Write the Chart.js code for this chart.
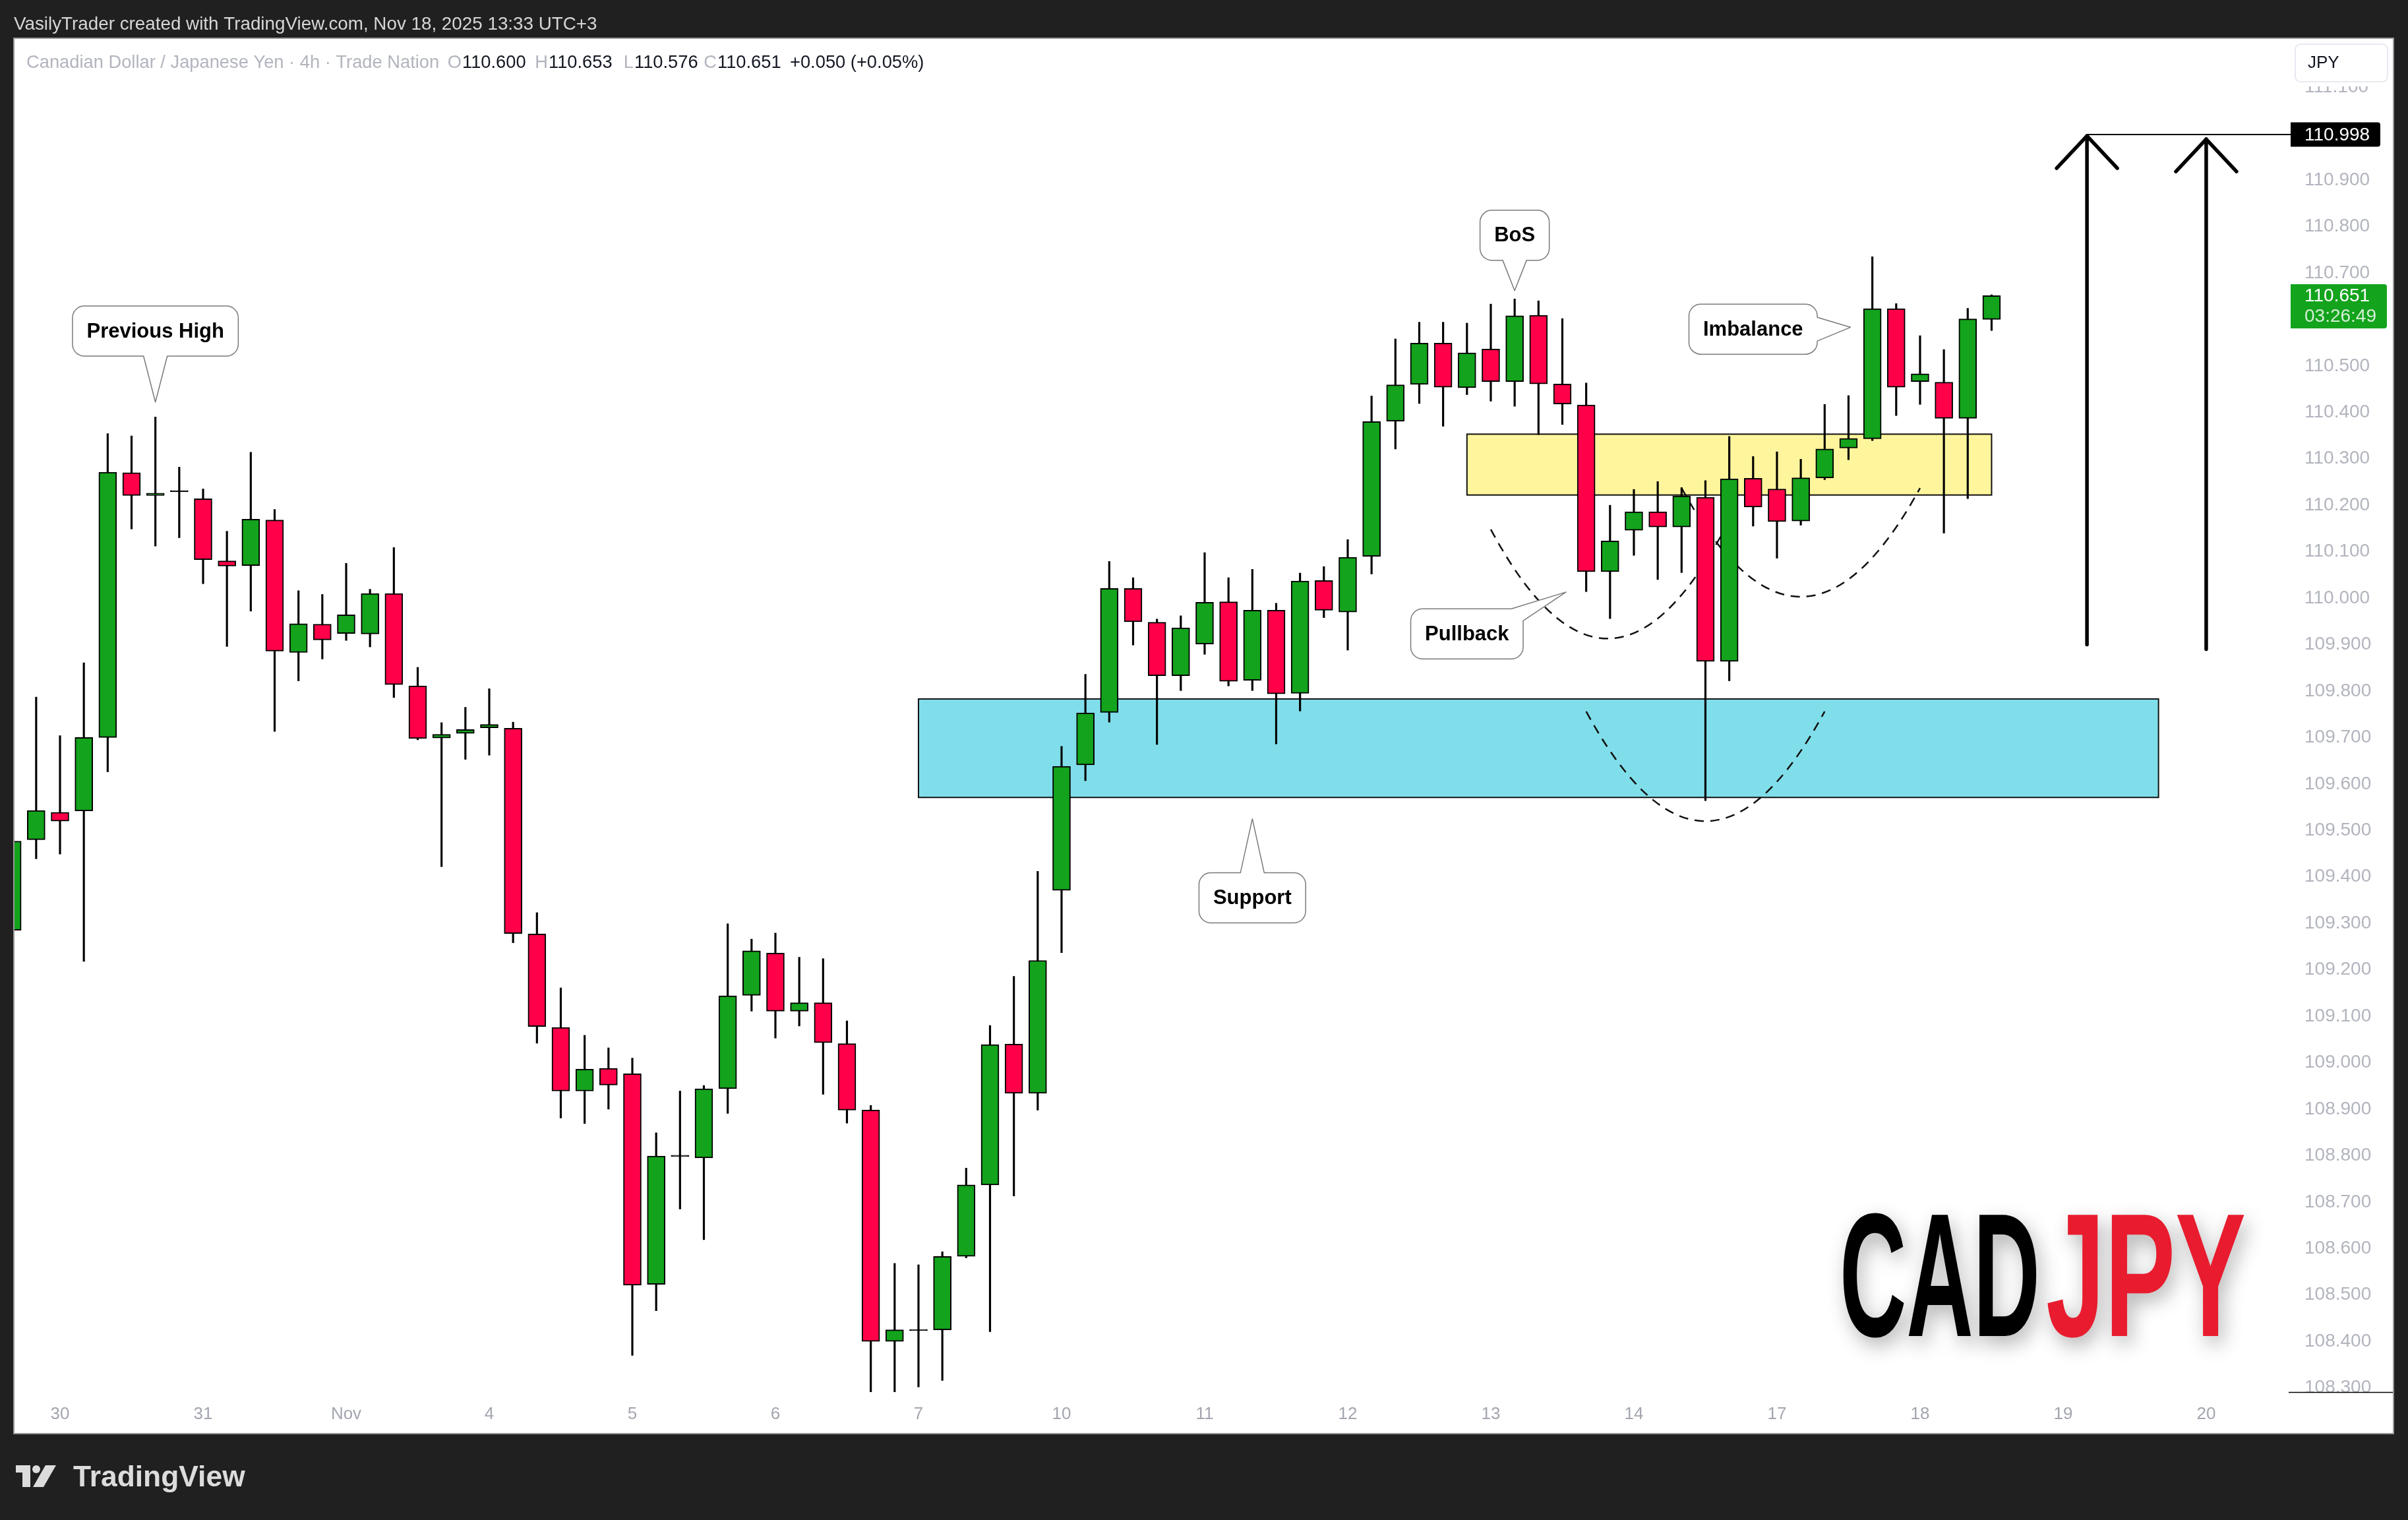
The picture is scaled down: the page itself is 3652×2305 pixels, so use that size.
<!DOCTYPE html>
<html><head><meta charset="utf-8">
<script src="https://cdn.jsdelivr.net/npm/chart.js@4.4.1/dist/chart.umd.min.js"></script>
<style>html,body{margin:0;padding:0;background:#202020;overflow:hidden}canvas{display:block}</style>
</head><body>
<canvas id="c" width="3652" height="2305"></canvas>
<script>
// ---------- DATA (4h candles, bar 0 = first visible bar) ----------
const opens = [109.285,109.480,109.539,109.542,109.700,110.270,110.221,110.229,110.214,110.080,
110.070,110.168,109.883,109.944,109.924,109.923,110.010,109.811,109.699,109.709,
109.721,109.720,109.277,109.076,108.939,108.988,108.976,108.523,108.798,108.795,
108.944,109.145,109.236,109.111,109.129,109.041,108.898,108.400,108.423,108.425,
108.583,108.737,109.040,108.934,109.371,109.641,109.754,110.021,109.948,109.833,
109.901,109.992,109.823,109.974,109.795,110.038,109.970,110.090,110.381,110.460,
110.549,110.453,110.536,110.466,110.609,110.461,110.416,110.057,110.146,110.186,
110.153,110.217,109.864,110.258,110.235,110.166,110.259,110.323,110.343,110.623,
110.466,110.465,110.387,110.600];
const highs = [109.495,109.787,109.704,109.861,110.354,110.349,110.390,110.282,110.235,110.144,
110.314,110.191,110.016,110.008,110.075,110.019,110.109,109.851,109.732,109.765,
109.805,109.733,109.323,109.161,109.059,109.032,109.010,108.849,108.939,108.951,
109.299,109.266,109.279,109.227,109.224,109.090,108.908,108.568,108.565,108.593,
108.773,109.080,109.186,109.412,109.681,109.836,110.079,110.044,109.955,109.962,
110.098,110.044,110.062,109.989,110.054,110.068,110.126,110.435,110.558,110.594,
110.594,110.592,110.633,110.644,110.640,110.602,110.463,110.200,110.234,110.251,
110.238,110.253,110.348,110.305,110.315,110.299,110.417,110.436,110.735,110.634,
110.565,110.535,110.624,110.653];
const lows = [109.265,109.439,109.449,109.218,109.626,110.149,110.112,110.130,110.031,109.896,
109.972,109.713,109.822,109.869,109.909,109.895,109.786,109.695,109.422,109.653,
109.662,109.258,109.042,108.881,108.869,108.900,108.370,108.466,108.685,108.619,
108.891,109.111,109.053,109.079,108.932,108.870,108.291,108.291,108.302,108.316,
108.580,108.421,108.713,108.898,109.237,109.607,109.733,109.899,109.685,109.801,
109.879,109.811,109.801,109.686,109.757,109.958,109.888,110.052,110.321,110.419,
110.370,110.438,110.424,110.413,110.352,110.374,110.014,109.956,110.092,110.040,
110.055,109.564,109.822,110.155,110.086,110.157,110.255,110.298,110.339,110.393,
110.417,110.140,110.214,110.576];
const closes = [109.477,109.543,109.520,109.700,110.271,110.221,110.226,110.229,110.083,110.069,
110.170,109.886,109.945,109.910,109.964,110.010,109.814,109.698,109.707,109.717,
109.728,109.278,109.078,108.939,108.986,108.952,108.521,108.799,108.798,108.944,
109.144,109.241,109.111,109.129,109.043,108.898,108.400,108.425,108.423,108.583,
108.737,109.039,108.934,109.220,109.638,109.753,110.021,109.949,109.833,109.936,
109.991,109.821,109.974,109.794,110.037,109.974,110.088,110.380,110.459,110.549,
110.454,110.528,110.466,110.608,110.461,110.418,110.057,110.123,110.186,110.153,
110.220,109.864,110.257,110.196,110.165,110.259,110.321,110.344,110.623,110.454,
110.483,110.387,110.601,110.651];

const dayTickBars   = [2, 8, 14, 20, 26, 32, 38, 44, 50, 56, 62, 68, 74, 80, 86, 92];
const dayTickLabels = ['30','31','Nov','4','5','6','7','10','11','12','13','14','17','18','19','20'];
const priceTicks = [111.1,111.0,110.9,110.8,110.7,110.6,110.5,110.4,110.3,110.2,110.1,110.0,
  109.9,109.8,109.7,109.6,109.5,109.4,109.3,109.2,109.1,109.0,108.9,108.8,108.7,108.6,108.5,108.4,108.3];

const xRange = [0.092, 95.43];
const yRange = [108.291, 111.1087];

const supportZone   = {fromBar: 38, toBar: 90, low: 109.571, high: 109.783};
const imbalanceZone = {fromBar: 61, toBar: 83, low: 110.222, high: 110.353};
const curveStarts   = [[62, 110.148], [70, 110.237], [66, 109.756]];
const curveControls = [[66.9, 109.678], [75, 109.769], [71, 109.284]];
const curveEnds     = [[71.8, 110.148], [80, 110.237], [76, 109.756]];

const calloutTexts  = ['Previous High', 'BoS', 'Pullback', 'Imbalance', 'Support'];
const calloutBoxAt  = [[6, 110.575], [63, 110.781], [61, 109.923], [73, 110.579], [52, 109.355]];
const calloutTipAt  = [[6, 110.422], [63, 110.662], [65.15, 110.013], [77.08, 110.583], [52, 109.525]];
const calloutSides  = ['bottom', 'bottom', 'topright', 'right', 'top'];

const arrowBars  = [87, 92];
const arrowFrom  = [109.90, 109.89];
const arrowTo    = [110.995, 110.988];
const targetLevel = 110.998;
const countdown = '03:26:49';

// ---------- CHART ----------
const GREEN = '#13a31c', RED = '#ff0049';
const N = opens.length;
const bodyData = opens.map((o, i) => ({x: i, y: [o, closes[i]]}));
const wickData = lows.map((l, i) => ({x: i, y: [l, highs[i]]}));
const bodyColors = opens.map((o, i) => closes[i] > o ? GREEN : (closes[i] < o ? RED : '#000'));

const F = '"Liberation Sans", Arial, sans-serif';

function fitFont(ctx, text, weight, targetW) {
  ctx.font = weight + ' 100px ' + F;
  return 100 * targetW / ctx.measureText(text).width;
}

const tvPlugin = {
  id: 'tv',
  beforeDraw(chart) {
    const ctx = chart.ctx;
    ctx.save();
    ctx.fillStyle = '#202020';
    ctx.fillRect(0, 0, chart.width, chart.height);
    ctx.fillStyle = '#ffffff';
    ctx.fillRect(22, 59, 3607, 2114);
    ctx.strokeStyle = '#9a9a9a'; ctx.lineWidth = 2;
    ctx.strokeRect(21, 58, 3609, 2116);
    ctx.restore();
  },
  beforeDatasetsDraw(chart) {
    const ctx = chart.ctx, a = chart.chartArea;
    const X = v => chart.scales.x.getPixelForValue(v), Y = v => chart.scales.y.getPixelForValue(v);
    ctx.save();
    ctx.beginPath(); ctx.rect(a.left, a.top, a.right - a.left, a.bottom - a.top); ctx.clip();
    const zone = (z, fill) => {
      const x0 = X(z.fromBar), x1 = X(z.toBar), y0 = Y(z.high), y1 = Y(z.low);
      ctx.fillStyle = fill; ctx.fillRect(x0, y0, x1 - x0, y1 - y0);
      ctx.strokeStyle = '#111'; ctx.lineWidth = 2; ctx.strokeRect(x0, y0, x1 - x0, y1 - y0);
    };
    zone(supportZone, '#80deea');
    zone(imbalanceZone, '#fff59d');
    ctx.setLineDash([14, 10]); ctx.lineWidth = 2.5; ctx.strokeStyle = '#111';
    for (let i = 0; i < curveStarts.length; i++) {
      ctx.beginPath();
      ctx.moveTo(X(curveStarts[i][0]), Y(curveStarts[i][1]));
      ctx.quadraticCurveTo(X(curveControls[i][0]), Y(curveControls[i][1]), X(curveEnds[i][0]), Y(curveEnds[i][1]));
      ctx.stroke();
    }
    ctx.restore();
  },
  afterDatasetsDraw(chart) {
    const ctx = chart.ctx;
    const X = v => chart.scales.x.getPixelForValue(v), Y = v => chart.scales.y.getPixelForValue(v);
    ctx.save();
    // target level line
    const ly = Y(targetLevel);
    ctx.strokeStyle = '#000'; ctx.lineWidth = 2;
    ctx.beginPath(); ctx.moveTo(X(arrowBars[0]), ly); ctx.lineTo(3474, ly); ctx.stroke();
    // arrows
    ctx.lineWidth = 5.5; ctx.lineCap = 'round'; ctx.lineJoin = 'round';
    for (let i = 0; i < arrowBars.length; i++) {
      const x = X(arrowBars[i]), yb = Y(arrowFrom[i]), yt = Y(arrowTo[i]);
      ctx.beginPath(); ctx.moveTo(x, yb); ctx.lineTo(x, yt); ctx.stroke();
      ctx.beginPath(); ctx.moveTo(x - 46, yt + 49); ctx.lineTo(x, yt); ctx.lineTo(x + 46, yt + 49); ctx.stroke();
    }
    ctx.lineCap = 'butt';
    // callouts
    ctx.font = 'bold 31px ' + F;
    for (let i = 0; i < calloutTexts.length; i++) {
      const t = calloutTexts[i];
      const w = ctx.measureText(t).width + 43, h = 76, r = 18, hw = 18;
      const cx = X(calloutBoxAt[i][0]), cy = Y(calloutBoxAt[i][1]);
      const tx = X(calloutTipAt[i][0]), ty = Y(calloutTipAt[i][1]);
      const L = cx - w / 2, R = cx + w / 2, T = cy - h / 2, B = cy + h / 2, side = calloutSides[i];
      ctx.beginPath();
      ctx.moveTo(L + r, T);
      if (side === 'top') { ctx.lineTo(cx - hw, T); ctx.lineTo(tx, ty); ctx.lineTo(cx + hw, T); }
      if (side === 'topright') { ctx.lineTo(R - r, T); ctx.lineTo(tx, ty); ctx.lineTo(R, T + r); }
      else ctx.arcTo(R, T, R, T + r, r);
      if (side === 'right') { ctx.lineTo(R, cy - hw); ctx.lineTo(tx, ty); ctx.lineTo(R, cy + hw); }
      ctx.arcTo(R, B, R - r, B, r);
      if (side === 'bottom') { ctx.lineTo(cx + hw, B); ctx.lineTo(tx, ty); ctx.lineTo(cx - hw, B); }
      ctx.arcTo(L, B, L, B - r, r);
      ctx.arcTo(L, T, L + r, T, r);
      ctx.closePath();
      ctx.fillStyle = '#fff'; ctx.fill();
      ctx.strokeStyle = '#7a7a7a'; ctx.lineWidth = 1.5; ctx.stroke();
      ctx.fillStyle = '#000'; ctx.textAlign = 'center'; ctx.textBaseline = 'middle';
      ctx.fillText(t, cx, cy + 1);
    }
    // CADJPY brand text
    const drawWord = (txt, color, x0, x1, base) => {
      ctx.save();
      ctx.font = 'bold 267px "Liberation Sans Narrow", ' + F;
      const mw = ctx.measureText(txt).width;
      const sx = (x1 - x0) / mw;
      ctx.shadowColor = 'rgba(0,0,0,0.30)'; ctx.shadowBlur = 30; ctx.shadowOffsetX = 6; ctx.shadowOffsetY = 12;
      ctx.translate(x0, base); ctx.scale(sx, 1);
      ctx.fillStyle = color; ctx.textAlign = 'left'; ctx.textBaseline = 'alphabetic';
      ctx.fillText(txt, 0, 0);
      ctx.restore();
    };
    drawWord('CAD', '#000000', 2790, 3094, 2026);
    drawWord('JPY', '#e81c2e', 3103, 3406, 2026);
    ctx.restore();
  },
  afterDraw(chart) {
    const ctx = chart.ctx;
    const Y = v => chart.scales.y.getPixelForValue(v);
    ctx.save();
    // axis covers (top and bottom of price scale)
    ctx.fillStyle = '#fff';
    ctx.fillRect(3471, 60, 157, 71);
    ctx.fillRect(3471, 2112, 157, 60);
    ctx.strokeStyle = '#000'; ctx.lineWidth = 1.5;
    ctx.beginPath(); ctx.moveTo(3471, 2111.5); ctx.lineTo(3629, 2111.5); ctx.stroke();
    // JPY button
    ctx.beginPath();
    ctx.roundRect(3481, 67, 140, 57, 8);
    ctx.fillStyle = '#fff'; ctx.fill();
    ctx.strokeStyle = '#e0e3eb'; ctx.lineWidth = 1.5; ctx.stroke();
    ctx.fillStyle = '#131722'; ctx.font = '26px ' + F; ctx.textAlign = 'left'; ctx.textBaseline = 'middle';
    ctx.fillText('JPY', 3500, 96);
    // target level label
    const ly = Y(targetLevel);
    ctx.fillStyle = '#000'; ctx.beginPath(); ctx.roundRect(3474, ly - 18.5, 136, 37, [0, 4, 4, 0]); ctx.fill();
    ctx.fillStyle = '#fff'; ctx.font = '28px ' + F;
    ctx.fillText(targetLevel.toFixed(3), 3495, ly + 1);
    // last price label
    const last = closes[N - 1], py = Y(last);
    ctx.fillStyle = GREEN; ctx.beginPath(); ctx.roundRect(3474, py - 17.5, 146, 67, [0, 4, 4, 0]); ctx.fill();
    ctx.fillStyle = '#fff'; ctx.fillText(last.toFixed(3), 3495, py + 1);
    ctx.fillStyle = 'rgba(255,255,255,0.82)'; ctx.fillText(countdown, 3495, py + 32);
    // header
    let fs = fitFont(ctx, 'VasilyTrader created with TradingView.com, Nov 18, 2025 13:33 UTC+3', '', 886);
    ctx.font = fs.toFixed(1) + 'px ' + F; ctx.fillStyle = '#d6d6d6'; ctx.textBaseline = 'middle';
    ctx.fillText('VasilyTrader created with TradingView.com, Nov 18, 2025 13:33 UTC+3', 21, 37);
    // legend
    const title = 'Canadian Dollar / Japanese Yen · 4h · Trade Nation';
    fs = fitFont(ctx, title, '', 627);
    ctx.font = fs.toFixed(1) + 'px ' + F;
    const gray = '#b2b5be', dark = '#131722';
    const o = opens[N - 1], h = highs[N - 1], l = lows[N - 1], c = closes[N - 1], prev = closes[N - 2];
    const chg = c - prev, pct = chg / prev * 100;
    ctx.fillStyle = gray; ctx.fillText(title, 40, 95);
    const vals = [['O', o.toFixed(3), 701], ['H', h.toFixed(3), 832], ['L', l.toFixed(3), 962], ['C', c.toFixed(3), 1088]];
    for (const v of vals) {
      ctx.fillStyle = gray; ctx.fillText(v[0], v[2] - ctx.measureText(v[0]).width - 1, 95);
      ctx.fillStyle = dark; ctx.fillText(v[1], v[2], 95);
    }
    ctx.fillStyle = dark;
    ctx.fillText((chg >= 0 ? '+' : '') + chg.toFixed(3) + ' (' + (pct >= 0 ? '+' : '') + pct.toFixed(2) + '%)', 1198, 95);
    // footer logo
    ctx.fillStyle = '#dcdcdc';
    ctx.fillRect(24, 2222, 22, 11); ctx.fillRect(34, 2222, 12, 33);
    ctx.beginPath(); ctx.arc(55, 2228, 6, 0, Math.PI * 2); ctx.fill();
    ctx.beginPath(); ctx.moveTo(69, 2222); ctx.lineTo(85, 2222); ctx.lineTo(66, 2255); ctx.lineTo(50, 2255); ctx.closePath(); ctx.fill();
    fs = fitFont(ctx, 'TradingView', 'bold', 261);
    ctx.font = 'bold ' + fs.toFixed(1) + 'px ' + F; ctx.textBaseline = 'alphabetic';
    ctx.fillText('TradingView', 111, 2254);
    ctx.restore();
  }
};

new Chart(document.getElementById('c'), {
  type: 'bar',
  data: {
    datasets: [
      { label: 'body', data: bodyData, backgroundColor: bodyColors, borderColor: '#000', borderWidth: 2,
        borderSkipped: false, barThickness: 27, minBarLength: 2, grouped: false, order: 0 },
      { label: 'wick', data: wickData, backgroundColor: '#000', borderWidth: 0,
        barThickness: 2.5, grouped: false, order: 1 }
    ]
  },
  options: {
    responsive: false, devicePixelRatio: 1, animation: false,
    layout: { padding: { left: 22, right: 23, top: 126, bottom: 132 } },
    plugins: { legend: { display: false }, tooltip: { enabled: false } },
    scales: {
      x: {
        type: 'linear', min: xRange[0], max: xRange[1], offset: false, bounds: 'data',
        grid: { display: false, drawTicks: false }, border: { display: false },
        afterBuildTicks: s => { s.ticks = dayTickBars.map(v => ({ value: v })); },
        afterFit: s => { s.height = 62; },
        ticks: { autoSkip: false, maxRotation: 0, padding: 18, color: '#a3a6af',
          font: { family: 'Liberation Sans', size: 26 },
          callback: (v, i) => dayTickLabels[i] }
      },
      y: {
        type: 'linear', position: 'right', min: yRange[0], max: yRange[1], bounds: 'data',
        grid: { display: false, drawTicks: false }, border: { display: false },
        afterBuildTicks: s => { s.ticks = priceTicks.map(v => ({ value: v })); },
        afterFit: s => { s.width = 159; },
        ticks: { autoSkip: false, padding: 25, crossAlign: 'near', color: '#b2b5be',
          font: { family: 'Liberation Sans', size: 28 },
          callback: v => Number(v).toFixed(3) }
      }
    }
  },
  plugins: [tvPlugin]
});
</script>
</body></html>
